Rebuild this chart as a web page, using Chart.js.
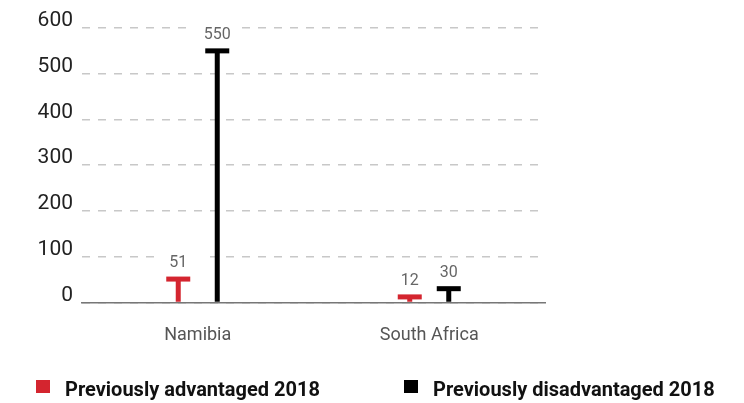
<!DOCTYPE html>
<html>
<head>
<meta charset="utf-8">
<script src="https://cdn.jsdelivr.net/npm/chart.js@4.4.1/dist/chart.umd.min.js"></script>
<style>
  html, body { margin: 0; padding: 0; background: #fff; }
  #wrap { position: relative; width: 744px; height: 403px; }
  #legend { position: absolute; left: 0; top: 0; width: 744px; height: 403px; pointer-events: none;
            font-family: Roboto, sans-serif; font-weight: 700; font-size: 20px; color: #111; }
  .item { position: absolute; top: 377px; white-space: nowrap; line-height: 24px; }
  .box { position: absolute; top: 3px; width: 14px; height: 13px; }
  .txt { position: absolute; left: 29px; top: 0; }
</style>
</head>
<body>
<div id="wrap">
  <canvas id="c"></canvas>
  <div id="legend"></div>
</div>
<script>
const categories = ["Namibia", "South Africa"];
const seriesNames = ["Previously advantaged 2018", "Previously disadvantaged 2018"];
const advantaged = [51, 12];
const disadvantaged = [550, 30];
const seriesColors = ["#d4252f", "#000000"];
const yTicks = [0, 100, 200, 300, 400, 500, 600];

Chart.defaults.font.family = "Roboto, sans-serif";

const capPlugin = {
  id: "caps",
  afterDatasetsDraw(chart) {
    const ctx = chart.ctx;
    ctx.save();
    const items = [];
    chart.data.datasets.forEach((ds, di) => {
      const meta = chart.getDatasetMeta(di);
      meta.data.forEach((el, i) => {
        items.push({ x: el.x, y: el.y, color: ds.backgroundColor, value: ds.data[i] });
      });
    });
    // label backgrounds (hide gridlines behind labels)
    ctx.fillStyle = "#ffffff";
    items.forEach(it => {
      ctx.fillRect(it.x - 24, it.y - 25, 48, 17);
    });
    // caps
    items.forEach(it => {
      ctx.fillStyle = it.color;
      ctx.fillRect(it.x - 12, it.y - 2.5, 24, 5);
    });
    // labels
    ctx.font = "16px Roboto, sans-serif";
    ctx.fillStyle = "#666666";
    ctx.textAlign = "center";
    ctx.textBaseline = "middle";
    items.forEach(it => {
      ctx.fillText(String(it.value), it.x, it.y - 16);
    });
    ctx.restore();
  }
};

new Chart(document.getElementById("c"), {
  type: "bar",
  data: {
    labels: categories,
    datasets: [
      { label: seriesNames[0], data: advantaged, backgroundColor: seriesColors[0] },
      { label: seriesNames[1], data: disadvantaged, backgroundColor: seriesColors[1] }
    ]
  },
  options: {
    responsive: true,
    maintainAspectRatio: false,
    animation: false,
    categoryPercentage: 0.337,
    barPercentage: 0.128,
    layout: { padding: { top: 28, right: 199, bottom: 35, left: 0 } },
    plugins: { legend: { display: false }, tooltip: { enabled: false } },
    scales: {
      x: {
        grid: { display: false, drawTicks: false },
        border: { display: true, color: "#777777", width: 1.5 },
        ticks: { color: "#555555", font: { size: 18 }, padding: 22 }
      },
      y: {
        min: 0, max: 600,
        afterBuildTicks(scale) { scale.ticks = yTicks.map(v => ({ value: v })); },
        afterFit(scale) { scale.width = 82; },
        grid: { color: "#c8c8c8", lineWidth: 1.5, drawTicks: false },
        border: { display: false, dash: [8, 8] },
        ticks: { color: "#222222", font: { size: 21 }, padding: 9, labelOffset: -7 }
      }
    }
  },
  plugins: [capPlugin]
});

// HTML legend
const legend = document.getElementById("legend");
const legendLeft = [36, 404];
seriesNames.forEach((name, i) => {
  const item = document.createElement("div");
  item.className = "item";
  item.style.left = legendLeft[i] + "px";
  const box = document.createElement("span");
  box.className = "box";
  box.style.background = seriesColors[i];
  const txt = document.createElement("span");
  txt.className = "txt";
  txt.textContent = name;
  item.appendChild(box);
  item.appendChild(txt);
  legend.appendChild(item);
});
</script>
</body>
</html>
